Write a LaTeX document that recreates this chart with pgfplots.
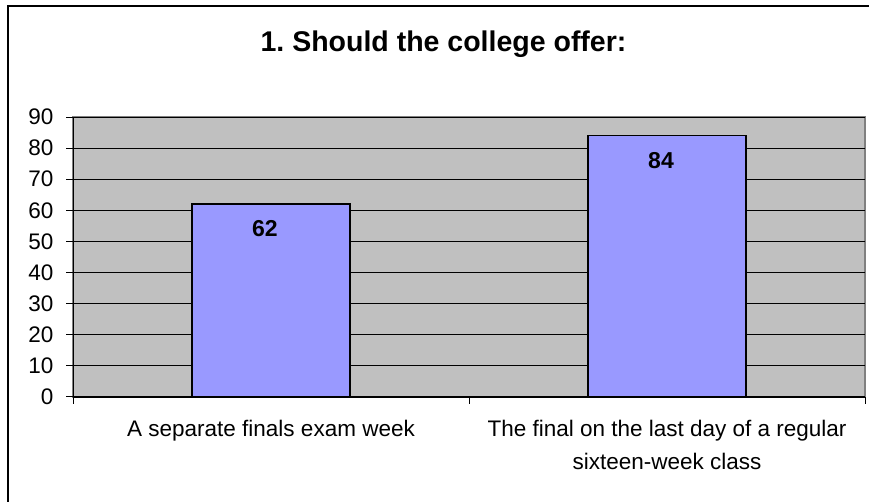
\documentclass[border=0pt]{standalone}
\usepackage{pgfplots}
\pgfplotsset{compat=1.18}
\usepackage{fontspec}
\setmainfont{Liberation Sans}
\definecolor{plotgray}{RGB}{192,192,192}
\definecolor{bordergray}{RGB}{128,128,128}
\definecolor{barblue}{RGB}{153,153,255}
\begin{document}
\frenchspacing
\begin{tikzpicture}
\useasboundingbox (0,0) rectangle (869bp,502bp);
\fill[white] (0,0) rectangle (869bp,502bp);
\draw[line width=2bp, black] (8bp,0) -- (8bp,496bp) -- (869bp,496bp);
\node[anchor=base, font={\fontsize{28.5bp}{34bp}\selectfont\bfseries}] at (443.5bp,450bp) {1. Should the college offer:};
\begin{axis}[
  at={(73bp,105bp)}, anchor=south west,
  scale only axis,
  width=792bp, height=280bp,
  xmin=-0.5, xmax=1.5,
  ymin=0, ymax=90,
  ytick distance=10,
  xtick={0,1},
  xticklabels={A separate finals exam week, {The final on the last day of a regular\\sixteen-week class}},
  minor xtick={-0.5,0.5,1.5},
  axis x line*=bottom,
  axis y line*=left,
  axis line style={black, line width=1bp},
  tick align=outside,
  tick style={black, line width=1bp},
  major tick length=7bp,
  minor tick length=7bp,
  major x tick style={draw=none},
  ymajorgrids,
  major grid style={black, line width=0.9bp},
  axis background/.style={fill=plotgray, draw=bordergray, line width=2bp},
  /pgf/number format/assume math mode=true,
  yticklabel style={font={\fontsize{22.5bp}{27bp}\selectfont}, xshift=-9bp},
  xticklabel style={font={\fontsize{22.5bp}{33bp}\selectfont}, align=center, yshift=-13bp},
  ybar,
  bar width=0.4,
  nodes near coords,
  point meta=y,
  nodes near coords style={anchor=north, inner sep=0pt, yshift=-16bp, xshift=-6bp, font={\fontsize{23bp}{27bp}\selectfont\bfseries}, black},
  clip=false,
]
\addplot[fill=barblue, draw=black, line width=1.5bp] coordinates {(0,62) (1,84)};
\end{axis}
\end{tikzpicture}
\end{document}
